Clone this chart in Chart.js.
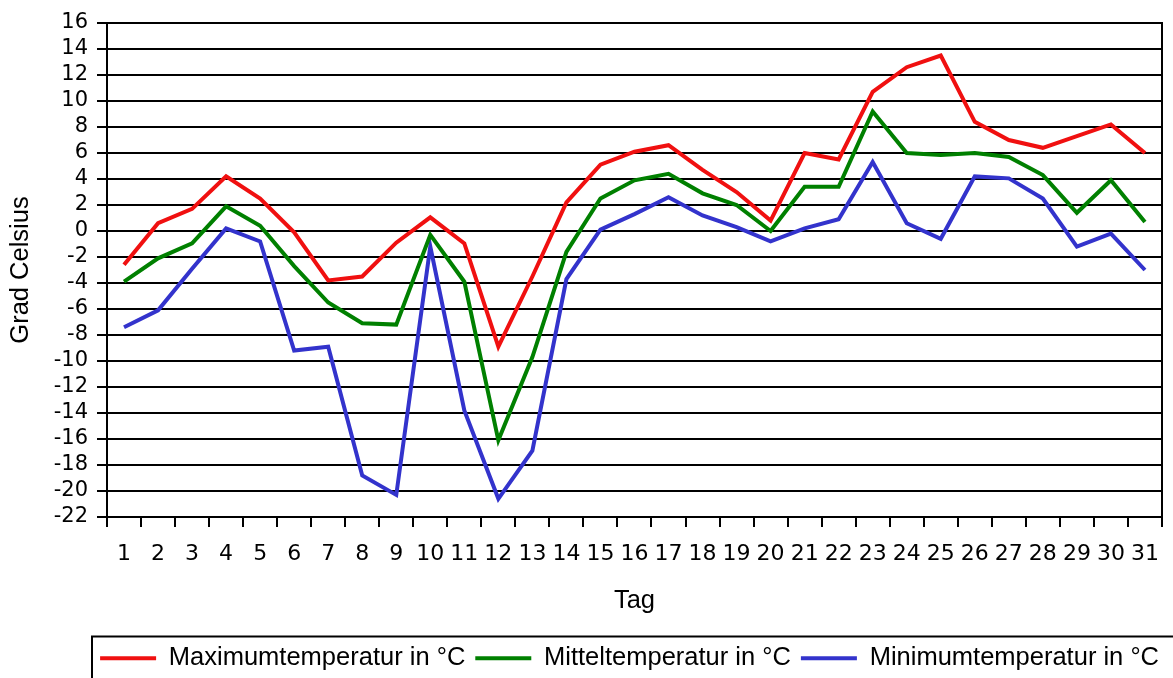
<!DOCTYPE html>
<html>
<head>
<meta charset="utf-8">
<script src="https://cdn.jsdelivr.net/npm/chart.js@4.4.1/dist/chart.umd.min.js"></script>
<style>
  html, body { margin: 0; padding: 0; background: #ffffff; }
  #wrap { width: 1173px; height: 678px; }
</style>
</head>
<body>
<div id="wrap"><canvas id="c" width="1173" height="678"></canvas></div>
<script>
const days = ['1','2','3','4','5','6','7','8','9','10','11','12','13','14','15','16','17','18','19','20','21','22','23','24','25','26','27','28','29','30','31'];
const maxTemp  = [-2.6, 0.6, 1.7, 4.2, 2.5, -0.1, -3.8, -3.5, -0.9, 1.05, -0.95, -8.9, -3.5, 2.2, 5.1, 6.1, 6.6, 4.7, 3.0, 0.8, 6.0, 5.5, 10.7, 12.6, 13.5, 8.4, 7.0, 6.4, 7.3, 8.2, 6.0];
const meanTemp = [-3.9, -2.1, -0.95, 1.9, 0.4, -2.7, -5.5, -7.1, -7.2, -0.3, -3.9, -16.1, -9.7, -1.6, 2.5, 3.9, 4.4, 2.9, 2.0, 0.0, 3.4, 3.4, 9.2, 6.0, 5.85, 6.0, 5.7, 4.3, 1.4, 3.9, 0.7];
const minTemp  = [-7.4, -6.1, -2.9, 0.2, -0.8, -9.2, -8.9, -18.8, -20.3, -1.2, -13.8, -20.6, -16.9, -3.7, 0.1, 1.3, 2.6, 1.2, 0.3, -0.8, 0.2, 0.9, 5.3, 0.6, -0.6, 4.2, 4.05, 2.5, -1.2, -0.2, -3.0];
const seriesNames = ['Maximumtemperatur in °C', 'Mitteltemperatur in °C', 'Minimumtemperatur in °C'];
const yMin = -22, yMax = 16, yStep = 2;
const xTitle = 'Tag';
const yTitle = 'Grad Celsius';

const legendBox = {
  id: 'legendBox',
  afterDraw(chart) {
    const lg = chart.legend;
    if (!lg) return;
    const ctx = chart.ctx;
    ctx.save();
    ctx.strokeStyle = '#000000';
    ctx.lineWidth = 2;
    ctx.strokeRect(92, lg.top + 1, chart.width, 100);
    ctx.restore();
  }
};

const yTickFont = { family: 'DejaVu Sans', size: 21 };
const xTickFont = { family: 'DejaVu Sans', size: 22 };
const titleFont = { family: 'Liberation Sans', size: 25.5 };

new Chart(document.getElementById('c'), {
  type: 'line',
  data: {
    labels: days,
    datasets: [
      { label: seriesNames[0], data: maxTemp,  borderColor: '#f01010', backgroundColor: '#f01010', borderWidth: 4, pointRadius: 0, tension: 0 },
      { label: seriesNames[1], data: meanTemp, borderColor: '#008000', backgroundColor: '#008000', borderWidth: 4, pointRadius: 0, tension: 0 },
      { label: seriesNames[2], data: minTemp,  borderColor: '#3333cc', backgroundColor: '#3333cc', borderWidth: 4, pointRadius: 0, tension: 0 }
    ]
  },
  options: {
    responsive: false,
    animation: false,
    devicePixelRatio: 1,
    layout: { padding: { top: 23, left: 2, right: 4, bottom: -3 } },
    plugins: {
      tooltip: { enabled: false },
      legend: {
        position: 'bottom',
        align: 'end',
        labels: {
          font: titleFont,
          color: '#000000',
          boxWidth: 56,
          boxHeight: 4,
          padding: 10,
          generateLabels(chart) {
            return Chart.defaults.plugins.legend.labels.generateLabels(chart)
              .map(l => Object.assign({}, l, { fillStyle: l.strokeStyle, lineWidth: 0 }));
          }
        }
      }
    },
    scales: {
      x: {
        offset: true,
        grid: { offset: true, drawOnChartArea: false, drawTicks: true, tickLength: 10, color: '#000000', lineWidth: 2 },
        border: { display: true, color: '#000000', width: 2 },
        ticks: { font: xTickFont, color: '#000000', padding: 14, maxRotation: 0, autoSkip: false },
        title: { display: true, text: xTitle, font: titleFont, color: '#000000', padding: { top: 4, bottom: 19 } },
        afterFit(scale) { scale.height = 118.5; }
      },
      y: {
        min: yMin, max: yMax,
        ticks: { stepSize: yStep, font: yTickFont, color: '#000000', padding: 9, autoSkip: false },
        grid: { color: '#000000', lineWidth: 2, tickLength: 10 },
        border: { display: true, color: '#000000', width: 2 },
        title: { display: true, text: yTitle, font: titleFont, color: '#000000', padding: { top: 4, bottom: 4 } },
        afterFit(scale) { scale.width = 105; }
      },
      y2: {
        position: 'right',
        display: true,
        min: yMin, max: yMax,
        ticks: { display: false },
        grid: { display: false, drawTicks: false },
        border: { display: true, color: '#000000', width: 2 },
        afterFit(scale) { scale.width = 0; }
      }
    }
  },
  plugins: [legendBox]
});
</script>
</body>
</html>
